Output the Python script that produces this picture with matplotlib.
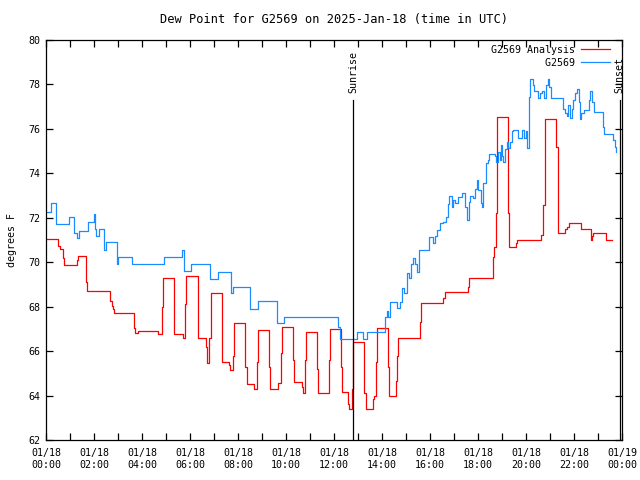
import matplotlib
matplotlib.use("Agg")
import matplotlib.pyplot as plt

# hours after 00:00 UTC and dew point (F)
obs_hours = [0.0, 0.22, 0.4, 0.96, 1.18, 1.28, 1.38, 1.75, 1.98, 2.05, 2.1, 2.2, 2.42, 2.5,
             2.97, 3.02, 3.58, 4.92, 5.65, 5.68, 5.73, 6.06, 6.83, 7.15, 7.69, 7.79, 8.5,
             8.83, 9.61, 9.92, 12.17, 12.25, 12.96, 13.21, 13.38, 14.13, 14.2, 14.26, 14.33,
             14.63, 14.75, 14.82, 14.93, 15.03, 15.14, 15.21, 15.28, 15.38, 15.47, 15.54,
             15.97, 16.11, 16.19, 16.28, 16.42, 16.54, 16.67, 16.75, 16.8, 16.9, 16.96,
             17.04, 17.18, 17.32, 17.46, 17.55, 17.63, 17.67, 17.8, 17.88, 17.95, 18.02,
             18.11, 18.15, 18.22, 18.33, 18.4, 18.46, 18.69, 18.75, 18.83, 18.9, 18.95,
             19.0, 19.05, 19.13, 19.2, 19.26, 19.33, 19.4, 19.47, 19.68, 19.75, 19.82,
             19.92, 19.98, 20.05, 20.11, 20.17, 20.3, 20.35, 20.51, 20.58, 20.65, 20.73,
             20.83, 20.9, 20.97, 21.04, 21.56, 21.63, 21.69, 21.76, 21.83, 21.9, 21.97,
             22.05, 22.14, 22.19, 22.25, 22.31, 22.4, 22.63, 22.67, 22.77, 22.83, 23.2,
             23.25, 23.64, 23.69, 23.74]
obs_dewpt = [72.27, 72.65, 71.72, 72.05, 71.33, 71.1, 71.42, 71.8, 72.17, 71.5, 71.18, 71.5,
             70.55, 70.9, 69.9, 70.22, 69.9, 70.22, 70.4, 70.55, 69.6, 69.9, 69.25, 69.55,
             68.6, 68.87, 67.9, 68.24, 67.27, 67.52, 67.1, 66.55, 66.85, 66.55, 66.85,
             67.55, 67.82, 67.55, 68.23, 67.93, 68.23, 68.83, 68.6, 69.5, 69.28, 69.9,
             70.18, 69.9, 69.57, 70.55, 71.15, 70.85, 71.2, 71.45, 71.75, 71.8, 72.05,
             72.6, 73.0, 72.5, 72.8, 72.65, 72.95, 73.1, 72.5, 71.9, 72.7, 73.0, 72.88,
             73.3, 73.7, 73.25, 72.65, 72.5, 73.55, 74.45, 74.6, 74.85, 74.8, 74.53,
             74.98, 74.6, 75.27, 74.8, 74.53, 75.1, 75.43, 75.12, 75.4, 75.9, 75.95,
             75.57, 75.6, 75.95, 75.57, 75.9, 75.12, 77.45, 78.23, 77.98, 77.7, 77.38,
             77.6, 77.7, 77.38, 77.98, 78.25, 77.9, 77.38, 76.9, 76.7, 76.6, 77.08, 76.48,
             76.9, 77.3, 77.6, 77.8, 77.2, 76.45, 76.7, 76.85, 77.3, 77.7, 77.2, 76.78,
             76.1, 75.75, 75.5, 75.2, 74.98]

ana_hours = [0.0, 0.51, 0.58, 0.7, 0.75, 1.29, 1.35, 1.65, 1.7, 2.67, 2.74, 2.79, 2.83, 3.67,
             3.71, 3.82, 4.68, 4.83, 4.86, 5.35, 5.7, 5.78, 5.83, 6.35, 6.65, 6.7, 6.81, 6.86,
             7.35, 7.62, 7.67, 7.79, 7.85, 8.31, 8.36, 8.68, 8.81, 8.85, 9.29, 9.33, 9.65,
             9.68, 9.79, 9.85, 10.3, 10.35, 10.65, 10.7, 10.8, 10.83, 11.31, 11.35, 11.8,
             11.83, 12.29, 12.32, 12.6, 12.64, 12.76, 12.8, 13.26, 13.32, 13.61, 13.64,
             13.67, 13.77, 13.8, 14.26, 14.3, 14.58, 14.63, 14.65, 15.58, 15.63, 16.56,
             16.63, 17.58, 17.63, 18.61, 18.67, 18.75, 18.8, 19.26, 19.3, 19.58, 19.61,
             20.63, 20.69, 20.72, 20.8, 21.27, 21.32, 21.63, 21.69, 21.8, 22.29, 22.71,
             22.75, 22.8, 23.32, 23.57]
ana_dewpt = [71.03, 70.73, 70.58, 70.18, 69.87, 70.1, 70.3, 69.1, 68.7, 68.25, 68.05, 67.9,
             67.7, 67.05, 66.8, 66.9, 66.75, 68.0, 69.3, 66.75, 66.57, 68.1, 69.38, 66.57,
             66.2, 65.45, 66.6, 68.6, 65.5, 65.38, 65.15, 65.8, 67.25, 65.3, 64.5, 64.28,
             65.5, 66.95, 65.3, 64.28, 64.45, 64.58, 65.9, 67.07, 65.6, 64.6, 64.4, 64.1,
             65.6, 66.85, 65.2, 64.1, 65.6, 66.98, 65.3, 64.15, 63.6, 63.38, 64.3, 66.4,
             64.1, 63.38, 63.6, 63.83, 64.0, 65.5, 67.02, 65.3, 64.0, 64.67, 65.8, 66.57,
             67.3, 68.15, 68.4, 68.68, 68.9, 69.28, 70.25, 70.7, 72.2, 76.52, 72.2, 70.67,
             70.85, 71.0, 71.22, 71.3, 72.57, 76.45, 75.2, 71.33, 71.48, 71.6, 71.75,
             71.48, 71.0, 71.2, 71.3, 71.0, 71.0]

sunrise_h = 12.79
sunset_h = 23.9
tick_hours = list(range(0, 25, 2))
tick_labels = ["01/18\n%02d:00" % h for h in range(0, 24, 2)] + ["01/19\n00:00"]

plt.rcParams["font.family"] = ["DejaVu Sans Mono"]
plt.rcParams["font.size"] = 7.2

fig = plt.figure(figsize=(6.4, 4.8), dpi=100)
ax = fig.add_axes([46 / 640, 40 / 480, 576 / 640, 400 / 480])

ax.plot(ana_hours, ana_dewpt, drawstyle="steps-post", color="#ff0000", lw=0.9,
        label="G2569 Analysis")
ax.plot(obs_hours, obs_dewpt, drawstyle="steps-post", color="#1a8cff", lw=0.9,
        label="         G2569")

for h, name in [(sunrise_h, "Sunrise"), (sunset_h, "Sunset")]:
    ax.plot([h, h], [62, 77.3], color="black", lw=0.9)
    ax.text(h, 77.6, name, rotation=90, ha="center", va="bottom")

ax.set_xlim(0, 24)
ax.set_ylim(62, 80)
ax.set_xticks(range(0, 25))
ax.set_xticklabels([tick_labels[h // 2] if h % 2 == 0 else "" for h in range(0, 25)])
ax.set_yticks(range(62, 81, 2))
ax.tick_params(direction="in", top=True, right=True, length=5, width=0.9, pad=4)
ax.tick_params(axis="x", pad=6)
for s in ax.spines.values():
    s.set_linewidth(0.9)

ax.set_ylabel("degrees F", labelpad=8)
ax.set_title("Dew Point for G2569 on 2025-Jan-18 (time in UTC)", pad=12)

ax.legend(loc="upper right", frameon=False, markerfirst=False, handlelength=2.9,
          handletextpad=0.6, borderaxespad=0.1, labelspacing=0.3,
          bbox_to_anchor=(0.987, 1.0))

fig.savefig("out.png", dpi=100)
